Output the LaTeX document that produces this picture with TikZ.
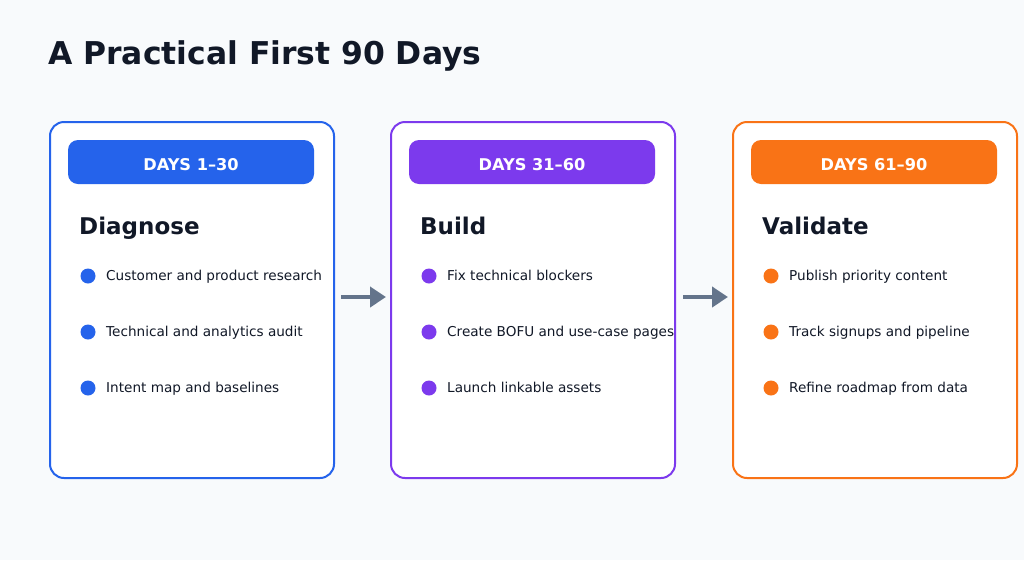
\documentclass[tikz,border=0pt]{standalone}
\usepackage{fontspec}
\setmainfont{DejaVu Sans}
\usetikzlibrary{arrows.meta}
\definecolor{bg}{HTML}{F8FAFC}
\definecolor{ink}{HTML}{111827}
\definecolor{cb}{HTML}{2563EB}
\definecolor{cp}{HTML}{7C3AED}
\definecolor{co}{HTML}{F97316}
\definecolor{ar}{HTML}{64748B}
\tikzset{
 card/.style={draw=#1,line width=2pt,fill=white,rounded corners=14pt,minimum width=284pt,minimum height=356pt,anchor=north west},
 pill/.style={fill=#1,rounded corners=10pt,minimum width=246pt,minimum height=44pt},
 pilltext/.style={text=white,font=\fontsize{16.2}{18}\selectfont\bfseries,anchor=base,inner sep=0pt},
 head/.style={anchor=base west,text=ink,font=\fontsize{23}{26}\selectfont\bfseries,inner sep=0pt},
 dot/.style={circle,fill=#1,minimum size=15pt,inner sep=0pt},
 item/.style={anchor=base west,text=ink,font=\fontsize{13.6}{16}\selectfont,inner sep=0pt},
 flow/.style={draw=ar,line width=4pt,-{Triangle[length=16pt,width=20pt]}}
}
\begin{document}
\begin{tikzpicture}[x=1pt,y=-1pt]
\fill[bg] (0,0) rectangle (1024,560);
\useasboundingbox (0,0) rectangle (1024,560);
\node[anchor=base west,text=ink,font=\fontsize{31.4}{36}\selectfont\bfseries,inner sep=0pt] (title) at (48,64) {A Practical First 90 Days};
\foreach \i/\x/\c/\d/\h/\a/\b/\e in {
 1/49/cb/DAYS 1–30/Diagnose/Customer and product research/Technical and analytics audit/Intent map and baselines,
 2/390/cp/DAYS 31–60/Build/Fix technical blockers/Create BOFU and use-case pages/Launch linkable assets,
 3/732/co/DAYS 61–90/Validate/Publish priority content/Track signups and pipeline/Refine roadmap from data}{
 \node[card=\c] (card\i) at (\x,121) {};
 \node[pill=\c] (pill\i) at (\x+142,162) {};
 \node[pilltext] (pt\i) at (\x+142,170) {\d};
 \node[head] (head\i) at (\x+30,234) {\h};
 \node[dot=\c] (d1\i) at (\x+39,276) {};
 \node[dot=\c] (d2\i) at (\x+39,332) {};
 \node[dot=\c] (d3\i) at (\x+39,388) {};
 \node[item] (t1\i) at (\x+57,280) {\a};
 \node[item] (t2\i) at (\x+57,336) {\b};
 \node[item] (t3\i) at (\x+57,392) {\e};
}
\coordinate (a1) at (341,297); \coordinate (b1) at (386,297);
\coordinate (a2) at (683,297); \coordinate (b2) at (728,297);
\draw[flow] (a1) -- (b1);
\draw[flow] (a2) -- (b2);
\end{tikzpicture}
\end{document}
